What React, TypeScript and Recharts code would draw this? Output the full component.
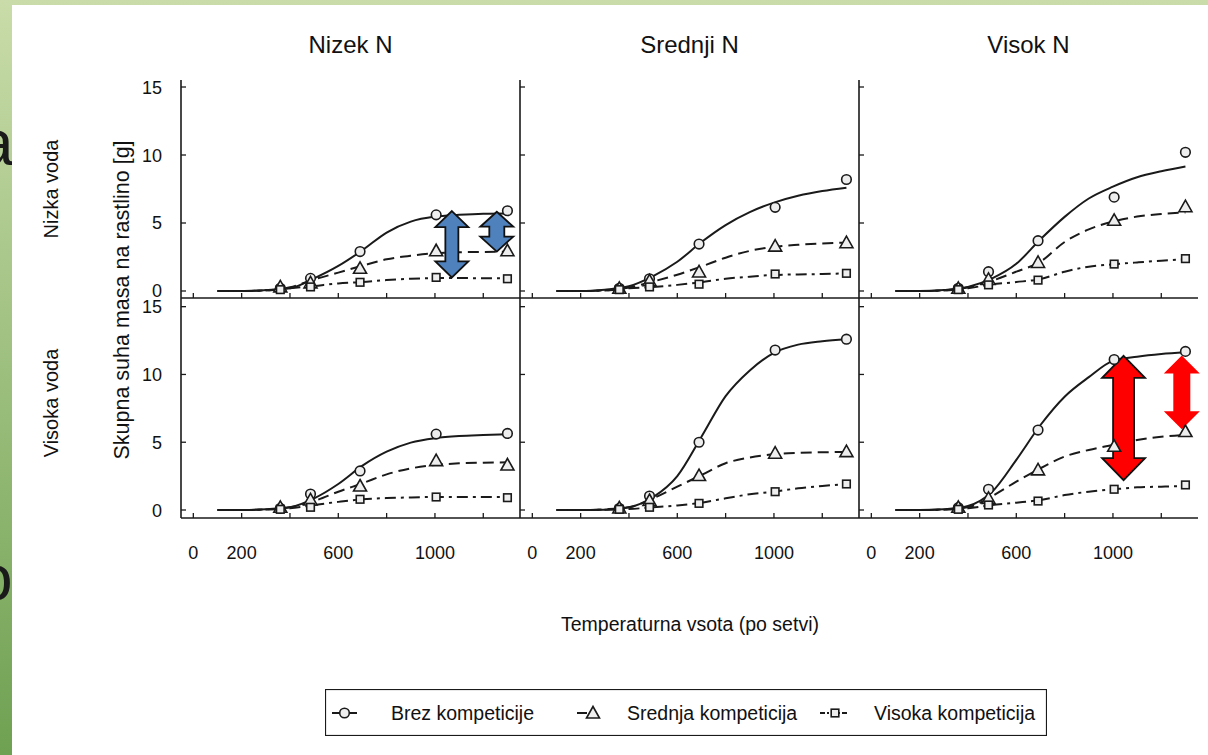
import React from "react";
import { ComposedChart, Line, Scatter, XAxis, YAxis, ReferenceLine } from "recharts";

// x positions of the fitted curves and of the measured points
const fitX = [100, 200, 300, 400, 500, 600, 700, 800, 900, 1000, 1100, 1200, 1300];
const obsX = [360, 485, 690, 1005, 1300];

const xTicks = [0, 200, 400, 600, 800, 1000, 1200];
const xTickLabels = [0, 200, 600, 1000];
const yTicks = [0, 5, 10, 15];

const columnTitles = ["Nizek N", "Srednji N", "Visok N"];
const rowTitles = ["Nizka voda", "Visoka voda"];
const seriesNames = ["Brez kompeticije", "Srednja kompeticija", "Visoka kompeticija"];

// Nizka voda
const nizkaNizekBrezFit = [0, 0, 0.07, 0.2, 0.93, 1.84, 3.0, 4.3, 5.1, 5.47, 5.6, 5.68, 5.7];
const nizkaNizekSrednjaFit = [0, 0, 0.05, 0.27, 0.85, 1.35, 1.86, 2.33, 2.6, 2.77, 2.85, 2.87, 2.9];
const nizkaNizekVisokaFit = [0, 0, 0.04, 0.2, 0.37, 0.56, 0.66, 0.8, 0.9, 0.95, 0.95, 0.94, 0.93];
const nizkaNizekBrezObs = [0.2, 0.93, 2.9, 5.6, 5.9];
const nizkaNizekSrednjaObs = [0.3, 0.6, 1.67, 2.96, 2.96];
const nizkaNizekVisokaObs = [0.1, 0.3, 0.64, 1.0, 0.9];

const nizkaSrednjiBrezFit = [0, 0, 0.1, 0.35, 1.1, 2.15, 3.6, 4.85, 5.8, 6.5, 7.0, 7.35, 7.6];
const nizkaSrednjiSrednjaFit = [0, 0, 0.05, 0.25, 0.7, 1.2, 1.8, 2.45, 2.95, 3.25, 3.4, 3.5, 3.55];
const nizkaSrednjiVisokaFit = [0, 0, 0.03, 0.2, 0.3, 0.45, 0.65, 0.9, 1.05, 1.18, 1.22, 1.25, 1.3];
const nizkaSrednjiBrezObs = [0.2, 0.9, 3.45, 6.15, 8.2];
const nizkaSrednjiSrednjaObs = [0.2, 0.75, 1.4, 3.3, 3.55];
const nizkaSrednjiVisokaObs = [0.1, 0.3, 0.5, 1.25, 1.3];

const nizkaVisokBrezFit = [0, 0, 0.07, 0.3, 0.93, 2.0, 3.8, 5.45, 6.8, 7.67, 8.36, 8.8, 9.15];
const nizkaVisokSrednjaFit = [0, 0, 0.05, 0.27, 0.76, 1.42, 2.16, 3.6, 4.53, 5.1, 5.47, 5.66, 5.78];
const nizkaVisokVisokaFit = [0, 0, 0.04, 0.2, 0.49, 0.66, 0.88, 1.42, 1.79, 1.96, 2.1, 2.23, 2.33];
const nizkaVisokBrezObs = [0.2, 1.42, 3.7, 6.9, 10.2];
const nizkaVisokSrednjaObs = [0.2, 0.85, 2.1, 5.2, 6.2];
const nizkaVisokVisokaObs = [0.1, 0.45, 0.8, 1.98, 2.38];

// Visoka voda
const visokaNizekBrezFit = [0, 0, 0.05, 0.2, 0.86, 1.92, 3.27, 4.3, 4.97, 5.3, 5.46, 5.53, 5.58];
const visokaNizekSrednjaFit = [0, 0, 0.05, 0.2, 0.66, 1.35, 1.97, 2.63, 3.07, 3.32, 3.44, 3.49, 3.52];
const visokaNizekVisokaFit = [0, 0, 0.03, 0.12, 0.37, 0.6, 0.79, 0.88, 0.93, 0.96, 0.96, 0.96, 0.96];
const visokaNizekBrezObs = [0.12, 1.18, 2.88, 5.6, 5.65];
const visokaNizekSrednjaObs = [0.2, 0.74, 1.77, 3.64, 3.32];
const visokaNizekVisokaObs = [0.05, 0.2, 0.79, 0.96, 0.91];

const visokaSrednjiBrezFit = [0, 0, 0.02, 0.2, 0.95, 2.5, 5.4, 8.4, 10.3, 11.6, 12.2, 12.45, 12.6];
const visokaSrednjiSrednjaFit = [0, 0, 0.05, 0.2, 0.86, 1.72, 2.58, 3.45, 3.87, 4.11, 4.21, 4.26, 4.28];
const visokaSrednjiVisokaFit = [0, 0, 0.02, 0.07, 0.2, 0.34, 0.54, 0.86, 1.16, 1.35, 1.6, 1.77, 1.92];
const visokaSrednjiBrezObs = [0.12, 1.03, 5.0, 11.8, 12.6];
const visokaSrednjiSrednjaObs = [0.15, 0.7, 2.54, 4.19, 4.31];
const visokaSrednjiVisokaObs = [0.05, 0.2, 0.49, 1.35, 1.92];

const visokaVisokBrezFit = [0, 0, 0.05, 0.3, 1.35, 3.7, 6.27, 8.36, 9.8, 11.0, 11.3, 11.5, 11.63];
const visokaVisokSrednjaFit = [0, 0, 0.05, 0.2, 1.03, 2.09, 3.08, 3.94, 4.43, 4.8, 5.17, 5.41, 5.54];
const visokaVisokVisokaFit = [0, 0, 0.02, 0.12, 0.37, 0.54, 0.74, 1.1, 1.35, 1.52, 1.67, 1.72, 1.77];
const visokaVisokBrezObs = [0.17, 1.53, 5.9, 11.1, 11.7];
const visokaVisokSrednjaObs = [0.2, 0.86, 2.96, 4.7, 5.79];
const visokaVisokVisokaObs = [0.05, 0.37, 0.66, 1.53, 1.85];

// difference arrows (x, top, bottom in data units)
const blueArrows = [
  { x: 1070, top: 5.88, bottom: 1.0, headW: 33, headH: 16, shaftW: 13, fill: "#4f81bd", stroke: "#111" },
  { x: 1256, top: 5.83, bottom: 2.9, headW: 33, headH: 15, shaftW: 15, fill: "#4f81bd", stroke: "#111" },
];
const redArrows = [
  { x: 1044, top: 11.37, bottom: 2.2, headW: 43, headH: 22, shaftW: 21, fill: "#ff0000", stroke: "#111" },
  { x: 1285, top: 11.4, bottom: 5.96, headW: 36, headH: 18, shaftW: 17, fill: "#ff0000", stroke: "none" },
];

const ink = "#1a1a1a";
const markerFill = "#eeeeee";
const font = "'Liberation Sans', Arial, sans-serif";
const xDomain = [-51, 1352];
const colLefts = [181, 520, 859];
const plotW = 339;
const rowTops = [80, 298];
const rowHeights = [218, 220];
const rowDomains = [
  [-0.515, 15.515],
  [-0.59, 15.64],
];
const dashes = [undefined, "11 6", "11 5 3 5"];
const shapes = ["circle", "triangle", "square"];

const toPoints = (xs: number[], ys: number[]) => xs.map((x, i) => ({ x, y: ys[i] }));

function Marker({ kind, cx, cy }: { kind: string; cx: number; cy: number }) {
  if (kind === "circle") {
    return <circle cx={cx} cy={cy} r={4.8} fill={markerFill} stroke={ink} strokeWidth={1.6} />;
  }
  if (kind === "triangle") {
    return (
      <polygon
        points={`${cx},${cy - 6.5} ${cx + 6.5},${cy + 5} ${cx - 6.5},${cy + 5}`}
        fill={markerFill}
        stroke={ink}
        strokeWidth={1.6}
        strokeLinejoin="miter"
      />
    );
  }
  return <rect x={cx - 3.8} y={cy - 3.8} width={7.6} height={7.6} fill={markerFill} stroke={ink} strokeWidth={1.6} />;
}

function DoubleArrow(props: any) {
  const { x1, y1, x2, y2, spec } = props;
  if ([x1, y1, x2, y2].some((v) => typeof v !== "number" || isNaN(v))) return null;
  const cx = (x1 + x2) / 2;
  const top = Math.min(y1, y2);
  const bot = Math.max(y1, y2);
  const hw = spec.headW / 2;
  const sw = spec.shaftW / 2;
  const h = spec.headH;
  const pts = [
    [cx, top],
    [cx + hw, top + h],
    [cx + sw, top + h],
    [cx + sw, bot - h],
    [cx + hw, bot - h],
    [cx, bot],
    [cx - hw, bot - h],
    [cx - sw, bot - h],
    [cx - sw, top + h],
    [cx - hw, top + h],
  ];
  return (
    <polygon
      points={pts.map((p) => p.join(",")).join(" ")}
      fill={spec.fill}
      stroke={spec.stroke}
      strokeWidth={1.8}
      strokeLinejoin="miter"
    />
  );
}

function YTick(props: any) {
  const { x, y, payload, showLabel } = props;
  return (
    <g>
      <line x1={x} y1={y} x2={x + 5} y2={y} stroke={ink} strokeWidth={1.3} />
      {showLabel && (
        <text x={x - 19} y={y + 6.5} textAnchor="end" fontSize={18} fontFamily={font} fill="#111">
          {payload.value}
        </text>
      )}
    </g>
  );
}

function XTick(props: any) {
  const { x, y, payload, showLabel } = props;
  return (
    <g>
      <line x1={x} y1={y} x2={x} y2={y - 5} stroke={ink} strokeWidth={1.3} />
      {showLabel && xTickLabels.includes(payload.value) && (
        <text x={x} y={y + 41} textAnchor="middle" fontSize={18} fontFamily={font} fill="#111">
          {payload.value}
        </text>
      )}
    </g>
  );
}

type Arrow = (typeof blueArrows)[number];

function Panel({
  col,
  row,
  fits,
  obs,
  arrows = [],
}: {
  col: number;
  row: number;
  fits: number[][];
  obs: number[][];
  arrows?: Arrow[];
}) {
  const plotH = rowHeights[row];
  const showY = col === 0;
  const showX = row === 1;
  const axisLine = { stroke: ink, strokeWidth: 1.6 };
  return (
    <div style={{ position: "absolute", left: colLefts[col] - 40, top: rowTops[row] - 2 }}>
      <ComposedChart width={40 + plotW + 2} height={2 + plotH + 50} margin={{ top: 2, right: 2, bottom: 0, left: 0 }}>
        <XAxis
          xAxisId="b"
          dataKey="x"
          type="number"
          domain={xDomain}
          allowDataOverflow
          ticks={xTicks}
          interval={0}
          tickSize={0}
          tickMargin={0}
          tickLine={false}
          axisLine={axisLine}
          height={50}
          tick={(p: any) => <XTick {...p} showLabel={showX} />}
        />
        <XAxis xAxisId="t" orientation="top" type="number" domain={xDomain} allowDataOverflow height={0} tick={false} tickLine={false} axisLine={axisLine} />
        <YAxis
          yAxisId="l"
          type="number"
          domain={rowDomains[row]}
          allowDataOverflow
          ticks={yTicks}
          interval={0}
          tickSize={0}
          tickMargin={0}
          tickLine={false}
          axisLine={axisLine}
          width={40}
          tick={(p: any) => <YTick {...p} showLabel={showY} />}
        />
        <YAxis yAxisId="r" orientation="right" type="number" domain={rowDomains[row]} allowDataOverflow width={0} tick={false} tickLine={false} axisLine={axisLine} />
        {fits.map((ys, i) => (
          <Line
            key={`fit-${i}`}
            xAxisId="b"
            yAxisId="l"
            data={toPoints(fitX, ys)}
            dataKey="y"
            name={seriesNames[i]}
            type="monotone"
            stroke={ink}
            strokeWidth={2}
            strokeDasharray={dashes[i]}
            dot={false}
            activeDot={false}
            isAnimationActive={false}
          />
        ))}
        {obs.map((ys, i) => (
          <Scatter
            key={`obs-${i}`}
            xAxisId="b"
            yAxisId="l"
            data={toPoints(obsX, ys)}
            dataKey="y"
            name={seriesNames[i]}
            shape={(p: any) => <Marker kind={shapes[i]} cx={p.cx} cy={p.cy} />}
            isAnimationActive={false}
          />
        ))}
        {arrows.map((a, i) => (
          <ReferenceLine
            key={`arrow-${i}`}
            xAxisId="b"
            yAxisId="l"
            segment={[
              { x: a.x, y: a.top },
              { x: a.x, y: a.bottom },
            ]}
            ifOverflow="visible"
            shape={(p: any) => <DoubleArrow {...p} spec={a} />}
          />
        ))}
      </ComposedChart>
    </div>
  );
}

function Legend() {
  const items = [
    { icon: 7, text: 66 },
    { icon: 252, text: 302 },
    { icon: 495, text: 549 },
  ];
  return (
    <svg style={{ position: "absolute", left: 325, top: 689 }} width={722} height={47}>
      <rect x={0.5} y={0.5} width={721} height={46} fill="#fff" stroke={ink} strokeWidth={1.2} />
      {/* solid */}
      <line x1={items[0].icon} y1={24} x2={items[0].icon + 25} y2={24} stroke={ink} strokeWidth={2} />
      <Marker kind="circle" cx={items[0].icon + 12.5} cy={24} />
      {/* dashed */}
      <line x1={items[1].icon} y1={24} x2={items[1].icon + 10} y2={24} stroke={ink} strokeWidth={2} />
      <Marker kind="triangle" cx={items[1].icon + 16} cy={24} />
      {/* dash-dot */}
      <line x1={items[2].icon} y1={24} x2={items[2].icon + 29} y2={24} stroke={ink} strokeWidth={2} strokeDasharray="5 2 2 2" />
      <Marker kind="square" cx={items[2].icon + 15} cy={24} />
      {items.map((it, i) => (
        <text key={i} x={it.text} y={30.5} fontSize={19.5} fontFamily={font} fill="#111">
          {seriesNames[i]}
        </text>
      ))}
    </svg>
  );
}

export default function App() {
  const colCenters = colLefts.map((l) => l + plotW / 2);
  return (
    <div style={{ position: "absolute", left: 0, top: 0, width: 1208, height: 755, overflow: "hidden", fontFamily: font }}>
      <svg style={{ position: "absolute", left: 0, top: 0 }} width={1208} height={755}>
        <defs>
          <linearGradient id="slideBg" x1="0" y1="0" x2="0" y2="1">
            <stop offset="0%" stopColor="#c9dca9" />
            <stop offset="100%" stopColor="#6fa152" />
          </linearGradient>
        </defs>
        <rect x={0} y={0} width={1208} height={755} fill="url(#slideBg)" />
        <text x={-22} y={165} fontSize={64} fontFamily={font} fill="#1a1a1a">a</text>
        <text x={-23} y={600} fontSize={64} fontFamily={font} fill="#1a1a1a">o</text>
        <rect x={12} y={5} width={1196} height={750} fill="#ffffff" />
        {columnTitles.map((t, i) => (
          <text key={t} x={colCenters[i]} y={53} textAnchor="middle" fontSize={24} fontFamily={font} fill="#111">
            {t}
          </text>
        ))}
        <text transform="translate(58,189) rotate(-90)" textAnchor="middle" fontSize={20} fontFamily={font} fill="#111">
          {rowTitles[0]}
        </text>
        <text transform="translate(58,403) rotate(-90)" textAnchor="middle" fontSize={20} fontFamily={font} fill="#111">
          {rowTitles[1]}
        </text>
        <text transform="translate(129,300) rotate(-90)" textAnchor="middle" fontSize={21.5} fontFamily={font} fill="#111">
          Skupna suha masa na rastlino [g]
        </text>
        <text x={690} y={631} textAnchor="middle" fontSize={19.5} fontFamily={font} fill="#111">
          Temperaturna vsota (po setvi)
        </text>
      </svg>

      <Panel
        col={0}
        row={0}
        fits={[nizkaNizekBrezFit, nizkaNizekSrednjaFit, nizkaNizekVisokaFit]}
        obs={[nizkaNizekBrezObs, nizkaNizekSrednjaObs, nizkaNizekVisokaObs]}
        arrows={blueArrows}
      />
      <Panel
        col={1}
        row={0}
        fits={[nizkaSrednjiBrezFit, nizkaSrednjiSrednjaFit, nizkaSrednjiVisokaFit]}
        obs={[nizkaSrednjiBrezObs, nizkaSrednjiSrednjaObs, nizkaSrednjiVisokaObs]}
      />
      <Panel
        col={2}
        row={0}
        fits={[nizkaVisokBrezFit, nizkaVisokSrednjaFit, nizkaVisokVisokaFit]}
        obs={[nizkaVisokBrezObs, nizkaVisokSrednjaObs, nizkaVisokVisokaObs]}
      />
      <Panel
        col={0}
        row={1}
        fits={[visokaNizekBrezFit, visokaNizekSrednjaFit, visokaNizekVisokaFit]}
        obs={[visokaNizekBrezObs, visokaNizekSrednjaObs, visokaNizekVisokaObs]}
      />
      <Panel
        col={1}
        row={1}
        fits={[visokaSrednjiBrezFit, visokaSrednjiSrednjaFit, visokaSrednjiVisokaFit]}
        obs={[visokaSrednjiBrezObs, visokaSrednjiSrednjaObs, visokaSrednjiVisokaObs]}
      />
      <Panel
        col={2}
        row={1}
        fits={[visokaVisokBrezFit, visokaVisokSrednjaFit, visokaVisokVisokaFit]}
        obs={[visokaVisokBrezObs, visokaVisokSrednjaObs, visokaVisokVisokaObs]}
        arrows={redArrows}
      />

      <Legend />
    </div>
  );
}
